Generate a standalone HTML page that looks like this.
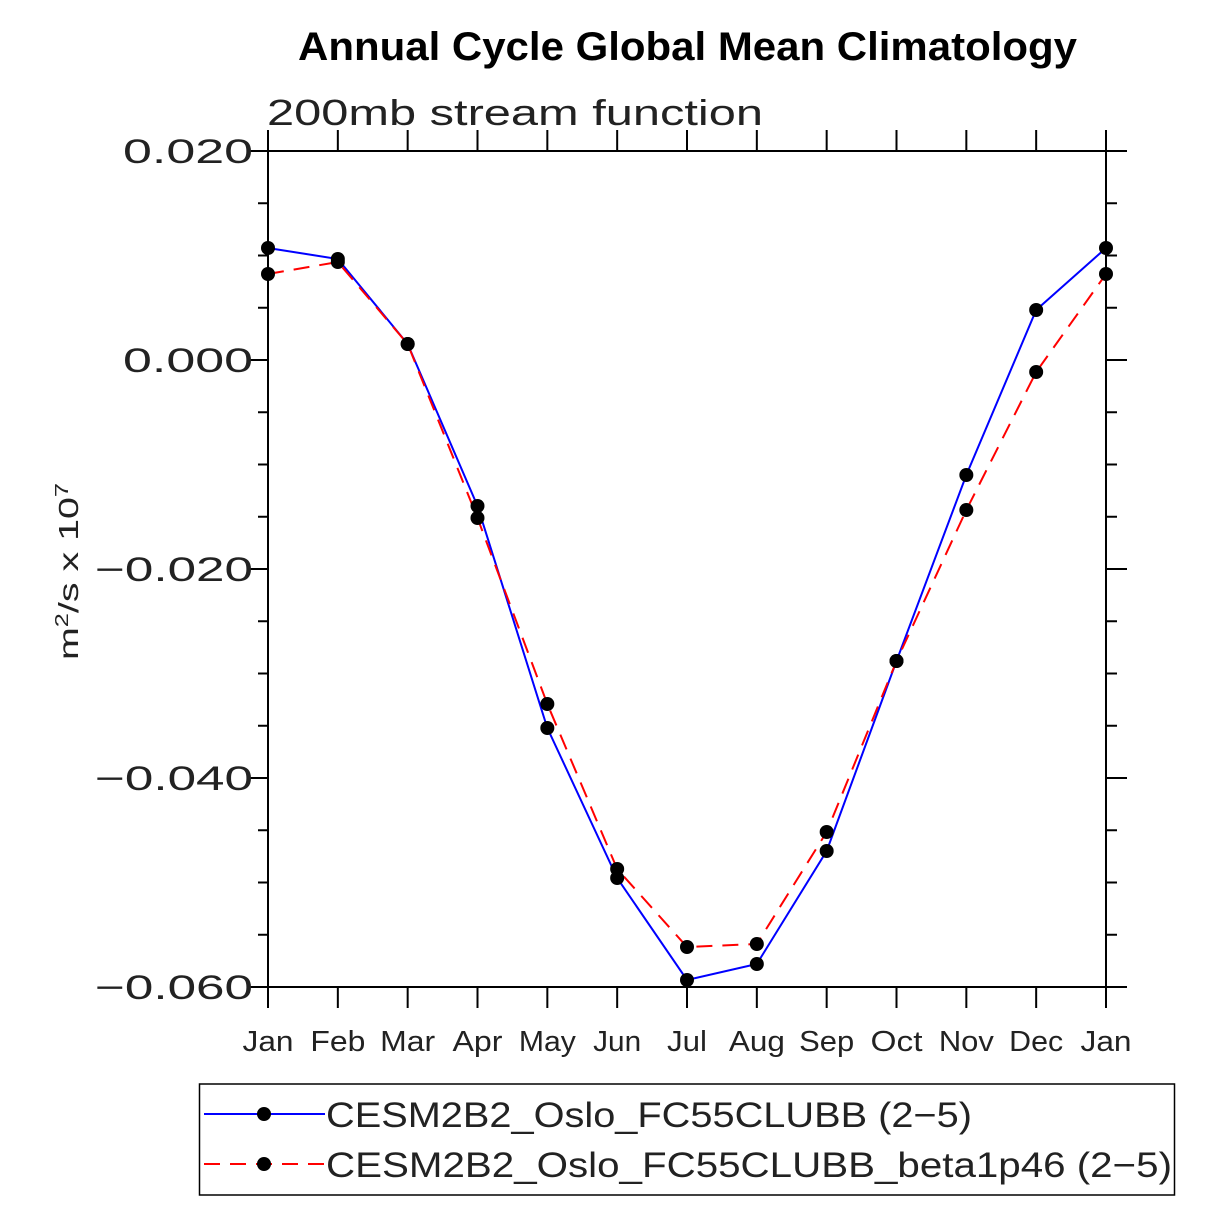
<!DOCTYPE html>
<html><head><meta charset="utf-8"><style>html,body{margin:0;padding:0;background:#fff}svg{display:block}</style></head>
<body>
<svg id="s" width="1225" height="1225" xmlns="http://www.w3.org/2000/svg" font-family="Liberation Sans, sans-serif">
<rect width="1225" height="1225" fill="#fff"/>
<text x="298" y="60" font-size="40" font-weight="bold" textLength="779" lengthAdjust="spacingAndGlyphs">Annual Cycle Global Mean Climatology</text>
<text x="267" y="125" font-size="36" fill="#222" textLength="496" lengthAdjust="spacingAndGlyphs">200mb stream function</text>
<text transform="translate(78,660) rotate(-90)" font-size="28" fill="#222" textLength="177" lengthAdjust="spacingAndGlyphs">m<tspan dy="-10" font-size="18">2</tspan><tspan dy="10">/s x 10</tspan><tspan dy="-10" font-size="18">7</tspan></text>
<g id="ax" stroke="#000" stroke-width="2" fill="none"></g>
<g id="lab" font-size="30" fill="#222"></g>
<g id="ser"></g>
<rect x="199.5" y="1084" width="975" height="111" fill="none" stroke="#000" stroke-width="1.5"/>
<line x1="204" y1="1114" x2="325" y2="1114" stroke="#00f" stroke-width="2"/>
<circle cx="264" cy="1114" r="7"/>
<line x1="204" y1="1164" x2="325" y2="1164" stroke="#f00" stroke-width="2" stroke-dasharray="16,10"/>
<circle cx="264" cy="1164" r="7"/>
<text x="326" y="1127" font-size="35" fill="#222" textLength="646" lengthAdjust="spacingAndGlyphs">CESM2B2_Oslo_FC55CLUBB (2−5)</text>
<text x="326" y="1177" font-size="35" fill="#222" textLength="846" lengthAdjust="spacingAndGlyphs">CESM2B2_Oslo_FC55CLUBB_beta1p46 (2−5)</text>
</svg>
<script>
var NS="http://www.w3.org/2000/svg";
function el(p,t,a,txt){var e=document.createElementNS(NS,t);for(var k in a)e.setAttribute(k,a[k]);if(txt)e.textContent=txt;document.getElementById(p).appendChild(e);return e;}
var L=268,R=1106,T=151,B=987;
el("ax","rect",{x:L,y:T,width:R-L,height:B-T});
function yv(v){return 360-v/0.02*209;}
for(var i=0;i<=16;i++){var v=0.02-i*0.005,y=yv(v),maj=(i%4==0),len=maj?20:10;
 el("ax","line",{x1:L-len,y1:y,x2:L,y2:y});el("ax","line",{x1:R,y1:y,x2:R+len+1,y2:y});
 if(maj){var s=v.toFixed(3),w=130;if(v<-1e-9){s="−"+(-v).toFixed(3);w=158;}
 el("lab","text",{x:253-w,y:y+12,"font-size":"34",textLength:w,lengthAdjust:"spacingAndGlyphs"},s);}}
var m=["Jan","Feb","Mar","Apr","May","Jun","Jul","Aug","Sep","Oct","Nov","Dec","Jan"];
var mw=[51,55,55,50,57,48,40,56,55,52,55,54,51];
var xs=[];for(var i=0;i<13;i++){var x=268+i*(1106-268)/12;xs.push(x);
 el("ax","line",{x1:x,y1:T-21,x2:x,y2:T});el("ax","line",{x1:x,y1:B,x2:x,y2:B+21});
 el("lab","text",{x:x-mw[i]/2,y:1051,"font-size":"29",textLength:mw[i],lengthAdjust:"spacingAndGlyphs"},m[i]);}
var b=[248,259,344,506,728,878,980,964,851,661,475,310,248];
var r=[274,262,344,518,704,869,947,944,832,661,510,372,274];
function pts(a){return a.map(function(y,i){return xs[i]+","+y}).join(" ");}
el("ser","polyline",{points:pts(b),fill:"none",stroke:"#00f","stroke-width":2});
el("ser","polyline",{points:pts(r),fill:"none",stroke:"#f00","stroke-width":2,"stroke-dasharray":"16,10"});
for(var i=0;i<13;i++){el("ser","circle",{cx:xs[i],cy:b[i],r:7});el("ser","circle",{cx:xs[i],cy:r[i],r:7});}
</script>
</body></html>
